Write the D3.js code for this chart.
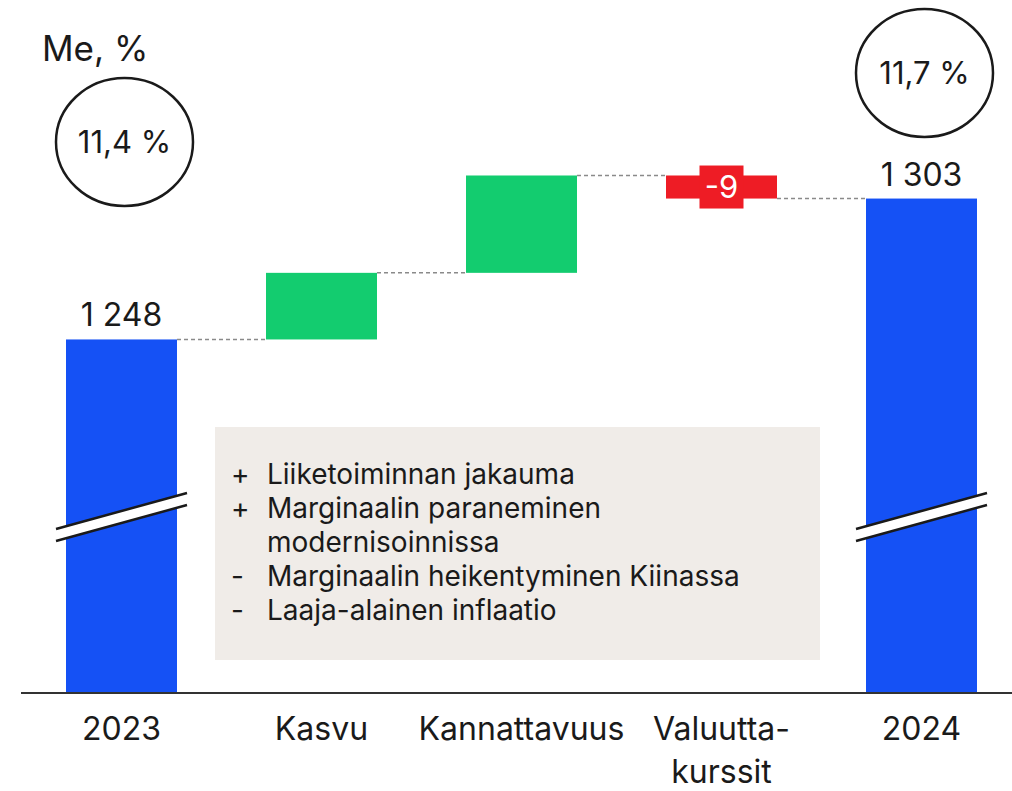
<!DOCTYPE html>
<html lang="fi">
<head>
<meta charset="UTF-8">
<title>waterfall</title>
<script src="https://cdn.jsdelivr.net/npm/d3@7"></script>
<style>
  body { margin: 0; background: #fff; }
  text { font-family: Inter, "Noto Sans", sans-serif; fill: #1a1a1a; }
</style>
</head>
<body>
<div id="chart"></div>
<script>
// data
const categories = ["2023", "Kasvu", "Kannattavuus", "Valuutta-kurssit", "2024"];
const labelLines = [["2023"], ["Kasvu"], ["Kannattavuus"], ["Valuutta-", "kurssit"], ["2024"]];
const values = [1248, 26, 38, -9, 1303];
const kinds = ["total", "delta", "delta", "delta", "total"];
const marginLabels = [{i: 0, text: "11,4 %"}, {i: 4, text: "11,7 %"}];
const notes = [
  ["+", "Liiketoiminnan jakauma"],
  ["+", "Marginaalin paraneminen"],
  ["", "modernisoinnissa"],
  ["-", "Marginaalin heikentyminen Kiinassa"],
  ["-", "Laaja-alainen inflaatio"]
];

const width = 1012, height = 791;
const baseY = 693;
const colors = {total: "#1551f5", up: "#13cc6f", down: "#ee1c25"};

const svg = d3.select("#chart").append("svg")
  .attr("width", width).attr("height", height);

const x = d3.scaleBand()
  .domain(categories)
  .range([21.5, 1021.5])
  .paddingInner(0.445)
  .paddingOuter(0.2225);

const y = d3.scaleLinear()
  .domain([1110, 1380.5])
  .range([baseY, 0]);

// build waterfall steps
let running = 0;
const steps = categories.map((c, i) => {
  let y0, y1;
  if (kinds[i] === "total") {
    y0 = y.domain()[0]; y1 = values[i]; running = values[i];
  } else {
    y0 = running; y1 = running + values[i]; running = y1;
  }
  return {cat: c, i, v: values[i], kind: kinds[i], y0, y1, end: running};
});

// text box (notes)
const box = svg.append("g");
box.append("rect")
  .attr("x", 215).attr("y", 427)
  .attr("width", 605).attr("height", 233)
  .attr("fill", "#f0ece8");
notes.forEach((n, k) => {
  box.append("text").attr("x", 231).attr("y", 484 + k * 34)
    .attr("font-size", 28).text(n[0]);
  box.append("text").attr("x", 267).attr("y", 484 + k * 34)
    .attr("font-size", 28).text(n[1]);
});

// connectors
for (let i = 0; i < steps.length - 1; i++) {
  const yy = y(steps[i].end);
  svg.append("line")
    .attr("x1", x(steps[i].cat) + x.bandwidth())
    .attr("x2", x(steps[i + 1].cat))
    .attr("y1", yy).attr("y2", yy)
    .attr("stroke", "#8a8a8a")
    .attr("stroke-width", 1.5)
    .attr("stroke-dasharray", "4,3");
}

// bars
svg.selectAll("rect.bar")
  .data(steps)
  .join("rect")
  .attr("class", "bar")
  .attr("x", d => x(d.cat))
  .attr("width", x.bandwidth())
  .attr("y", d => y(Math.max(d.y0, d.y1)))
  .attr("height", d => Math.abs(y(d.y0) - y(d.y1)))
  .attr("fill", d => d.kind === "total" ? colors.total : (d.v >= 0 ? colors.up : colors.down));

// axis breaks on total bars
steps.filter(d => d.kind === "total").forEach(d => {
  const x0 = x(d.cat) - 10, x1 = x(d.cat) + x.bandwidth() + 10;
  const yl = 529, yr = 493, gap = 12;
  svg.append("path")
    .attr("d", `M${x0},${yl} L${x1},${yr} L${x1},${yr + gap} L${x0},${yl + gap} Z`)
    .attr("fill", "#fff");
  [0, gap].forEach(o => {
    svg.append("line")
      .attr("x1", x0).attr("y1", yl + o)
      .attr("x2", x1).attr("y2", yr + o)
      .attr("stroke", "#1a1a1a").attr("stroke-width", 2.5);
  });
});

// value labels
steps.forEach(d => {
  const cx = x(d.cat) + x.bandwidth() / 2;
  if (d.kind === "total") {
    svg.append("text")
      .attr("x", cx).attr("y", y(d.y1) - 13)
      .attr("text-anchor", "middle")
      .attr("font-size", 32)
      .text(d3.format(",")(d.v).replace(",", " "));
  } else if (d.v < 0) {
    const cy = (y(d.y0) + y(d.y1)) / 2;
    svg.append("rect")
      .attr("x", cx - 22).attr("y", cy - 21.5)
      .attr("width", 44).attr("height", 43)
      .attr("fill", colors.down);
    svg.append("text")
      .attr("x", cx).attr("y", cy + 11)
      .attr("text-anchor", "middle")
      .attr("font-size", 31)
      .style("fill", "#fff")
      .text(d.v);
  }
});

// baseline
svg.append("line")
  .attr("x1", 21).attr("x2", width)
  .attr("y1", baseY).attr("y2", baseY)
  .attr("stroke", "#333").attr("stroke-width", 2);

// category labels
categories.forEach((c, i) => {
  const cx = x(c) + x.bandwidth() / 2;
  labelLines[i].forEach((line, k) => {
    svg.append("text")
      .attr("x", cx).attr("y", 740 + k * 43)
      .attr("text-anchor", "middle")
      .attr("font-size", 32)
      .text(line);
  });
});

// unit
svg.append("text")
  .attr("x", 42).attr("y", 61)
  .attr("font-size", 35)
  .text("Me, %");

// margin circles
const circleY = [142, 73];
marginLabels.forEach((m, k) => {
  const cx = x(categories[m.i]) + x.bandwidth() / 2 + 3;
  svg.append("ellipse")
    .attr("cx", cx).attr("cy", circleY[k])
    .attr("rx", 68.5).attr("ry", 64)
    .attr("fill", "none")
    .attr("stroke", "#1a1a1a").attr("stroke-width", 2.5);
  svg.append("text")
    .attr("x", cx).attr("y", circleY[k] + 11)
    .attr("text-anchor", "middle")
    .attr("font-size", 31)
    .text(m.text);
});
</script>
</body>
</html>
